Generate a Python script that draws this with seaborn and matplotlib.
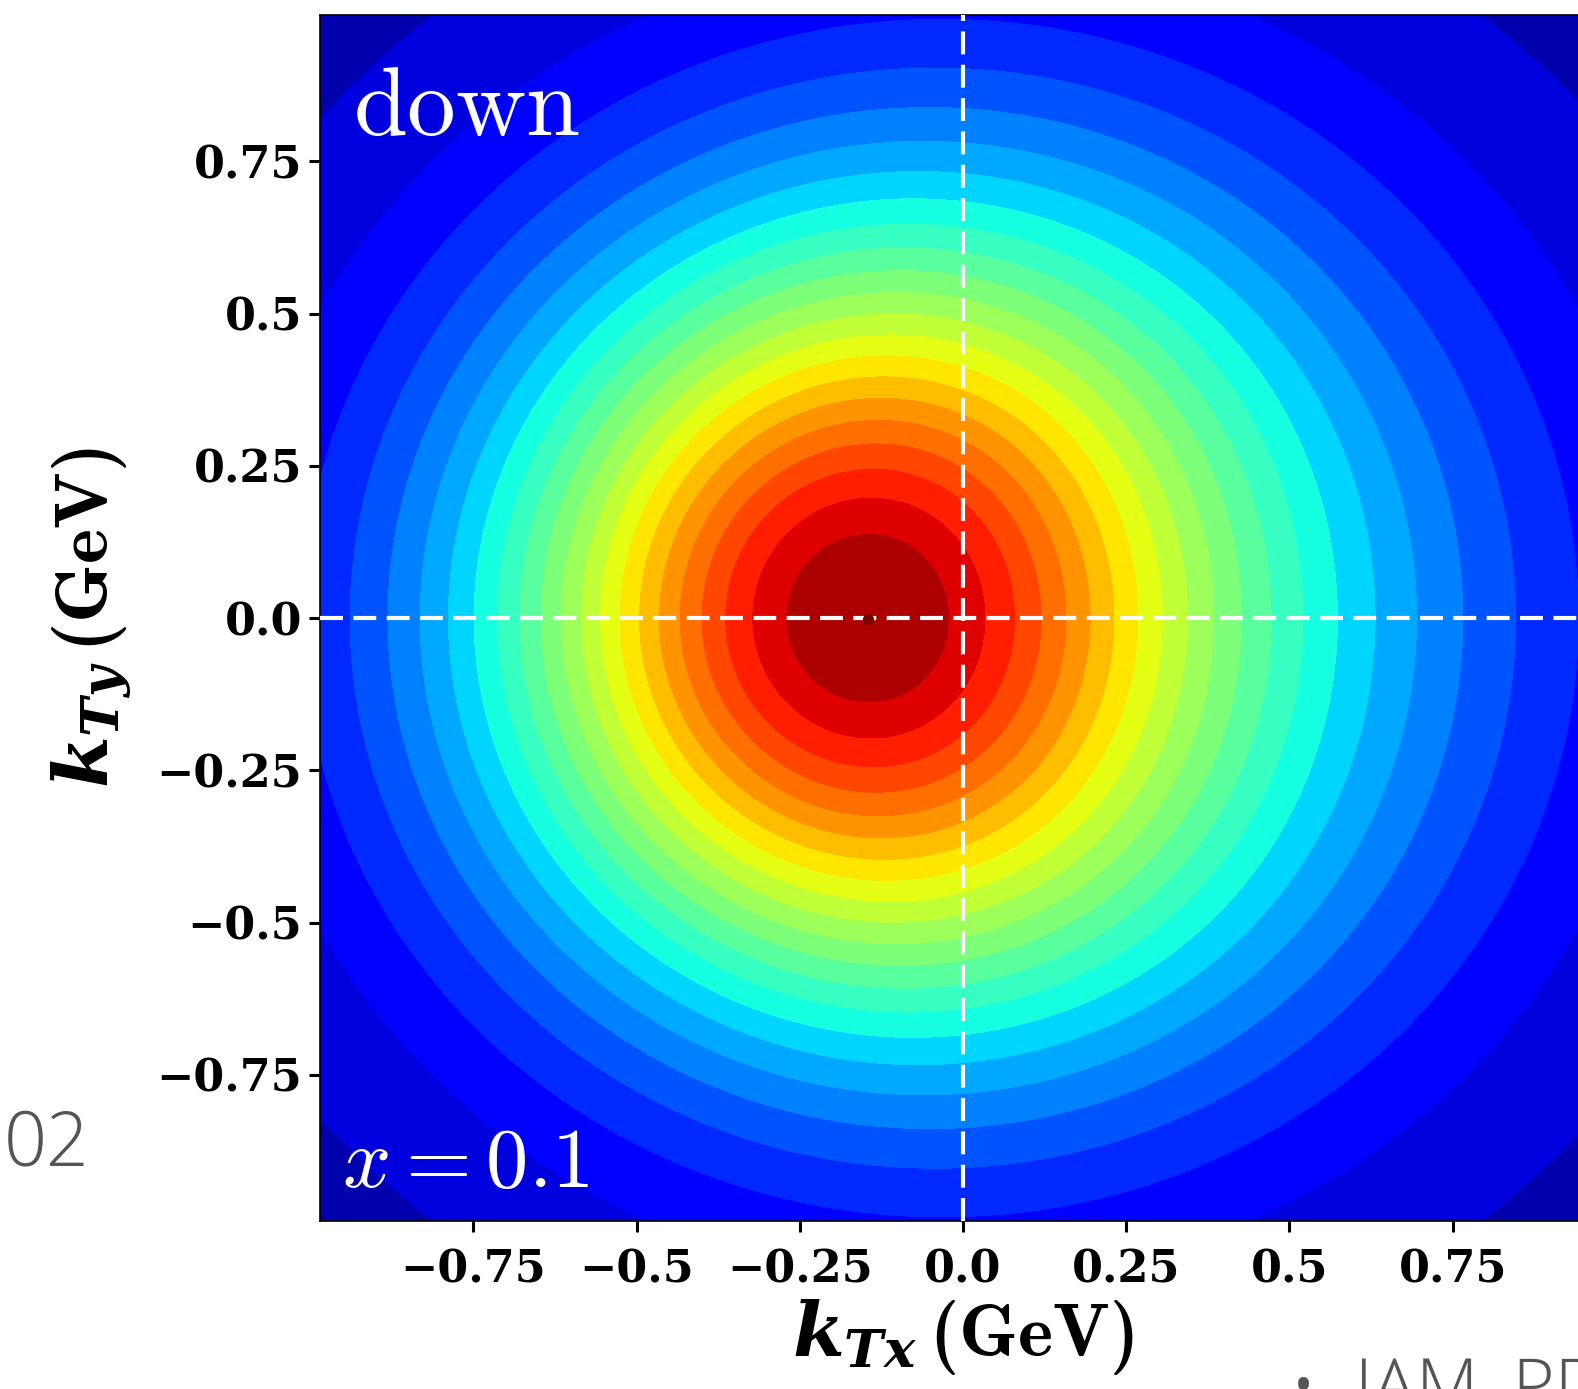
import numpy as np
import matplotlib
matplotlib.use("Agg")
import matplotlib.pyplot as plt
import seaborn as sns

# TMD-like density for the down quark at x = 0.1:
# even core, kx-odd (Sivers-like) term that pulls the peak left, and a wide even tail
component_widths = [0.66, 0.50, 1.20]        # GeV
component_amplitudes = [1.0, -0.873, 0.08]   # core, kx-odd part, tail
n_bands = 23

x_ticks = [-0.75, -0.5, -0.25, 0.0, 0.25, 0.5, 0.75]
x_tick_labels = ["-0.75", "-0.5", "-0.25", "0.0", "0.25", "0.5", "0.75"]
y_ticks = [-0.75, -0.5, -0.25, 0.0, 0.25, 0.5, 0.75]
y_tick_labels = ["-0.75", "-0.5", "-0.25", "0.0", "0.25", "0.5", "0.75"]

flavour_label = "down"
x_label_text = "x=0.1"

sns.set_style("ticks")
plt.rcParams["mathtext.fontset"] = "cm"
plt.rcParams["mathtext.rm"] = "cmb10"
plt.rcParams["mathtext.bf"] = "cmb10"
plt.rcParams["mathtext.it"] = "DejaVu Serif:italic:bold"
plt.rcParams["font.family"] = ["DejaVu Serif"]
for key in ["text.color", "axes.labelcolor", "xtick.color", "ytick.color"]:
    plt.rcParams[key] = "black"

# grid over the plotted window
kx = np.linspace(-0.985, 0.985, 600)
ky = np.linspace(-0.99, 0.99, 600)
KX, KY = np.meshgrid(kx, ky)
K2 = KX**2 + KY**2
Z = (component_amplitudes[0] * np.exp(-K2 / component_widths[0]**2)
     + component_amplitudes[1] * KX * np.exp(-K2 / component_widths[1]**2)
     + component_amplitudes[2] * np.exp(-K2 / component_widths[2]**2))

levels = np.linspace(0, Z.max(), n_bands + 1)
# seaborn refuses the name "jet", so sample it the same way seaborn does
jet = matplotlib.colormaps["jet"]
colors = sns.color_palette([jet(v) for v in np.linspace(0, 1, n_bands + 2)[1:-1]])

fig = plt.figure(figsize=(15.78, 13.89), dpi=100)
ax = fig.add_axes([0.2028, 0.121, 0.815, 0.868])

ax.contourf(KX, KY, Z, levels=levels, colors=colors, antialiased=False)

# peak position
ip = np.unravel_index(np.argmax(Z), Z.shape)
ax.plot(KX[ip], KY[ip], "o", color="#7a0000", markersize=7, zorder=4)

ax.axhline(0, color="white", lw=3, dashes=(5.5, 2.5), zorder=3)
ax.axvline(0, color="white", lw=3, dashes=(5.5, 2.5), zorder=3)

ax.set_xlim(-0.985, 0.985)
ax.set_ylim(-0.99, 0.99)

ax.set_xticks(x_ticks)
ax.set_xticklabels([t.replace("-", "\u2212") for t in x_tick_labels],
                   fontweight="bold", fontsize=32)
ax.set_yticks(y_ticks)
ax.set_yticklabels([t.replace("-", "\u2212") for t in y_tick_labels],
                   fontweight="bold", fontsize=32)
ax.tick_params(direction="out", length=8, width=2.2, pad=5, color="black")
ax.tick_params(axis="x", pad=12)
for sp in ax.spines.values():
    sp.set_linewidth(1.2)
    sp.set_color("black")

ax.set_xlabel(r"$k_{Tx}\,(\mathrm{GeV})$", fontsize=54, labelpad=4,
              math_fontfamily="custom")
ax.set_ylabel(r"$k_{Ty}\,(\mathrm{GeV})$", fontsize=54, labelpad=16,
              math_fontfamily="custom")

ax.text(0.026, 0.901, r"$\mathrm{%s}$" % flavour_label, transform=ax.transAxes,
        color="white", fontsize=70, ha="left", va="baseline")
ax.text(0.017, 0.028, r"$%s$" % x_label_text, transform=ax.transAxes,
        color="white", fontsize=61, ha="left", va="baseline")

# leftovers of the slide around the figure
fig.text(89 / 1578, 1 - 1165 / 1389, "02", fontsize=54, color="#555555",
         family=["Open Sans", "DejaVu Sans"], fontweight="light",
         ha="right", va="baseline")
fig.text(1290 / 1578, 1 - 1410 / 1389, "\u2022  JAM, PD", fontsize=52, color="#555555",
         family=["Open Sans", "DejaVu Sans"], fontweight="light",
         ha="left", va="baseline")

fig.savefig("out.png", dpi=100)
